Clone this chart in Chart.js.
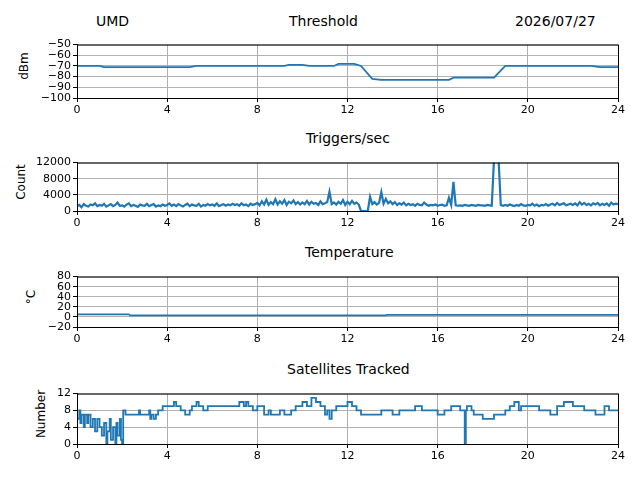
<!DOCTYPE html>
<html><head><meta charset="utf-8">
<script src="https://cdn.jsdelivr.net/npm/chart.js@4.4.0/dist/chart.umd.min.js"></script>
<style>
body{margin:0;background:#fff;width:640px;height:480px;position:relative;overflow:hidden;font-family:"DejaVu Sans",sans-serif;}
canvas{position:absolute;left:0;}
.t{position:absolute;font-size:14px;color:#000;white-space:nowrap;}
.yl{position:absolute;font-size:12px;transform:translate(-50%,-50%) rotate(-90deg);white-space:nowrap;}
</style></head><body>
<div class="t" style="left:96px;top:13px">UMD</div>
<div class="t" style="left:289px;top:13px">Threshold</div>
<div class="t" style="left:515px;top:13px">2026/07/27</div>
<div class="t" style="left:306px;top:130px">Triggers/sec</div>
<div class="t" style="left:305px;top:244px">Temperature</div>
<div class="t" style="left:287px;top:361px">Satellites Tracked</div>
<div class="yl" style="left:24px;top:66px">dBm</div>
<div class="yl" style="left:21px;top:182px">Count</div>
<div class="yl" style="left:31px;top:297px">°C</div>
<div class="yl" style="left:41px;top:414px">Number</div>
<canvas id="c1" width="640" height="84" style="top:36px"></canvas>
<canvas id="c2" width="640" height="79" style="top:154px"></canvas>
<canvas id="c3" width="640" height="81" style="top:268px"></canvas>
<canvas id="c4" width="640" height="81" style="top:385px"></canvas>
<script>
var thrHours = [0, 1, 1.2, 5, 5.3, 9.2, 9.4, 10, 10.3, 11.4, 11.6, 12.3, 12.6, 13.1, 13.5, 16.5, 16.7, 18.5, 19.0, 22.8, 23.2, 24];
var thrValues = [-70, -70, -71, -71, -70, -70, -69, -69, -70, -70, -68, -68, -70, -82, -83, -83, -81, -81, -70, -70, -71, -71];

var trigStep = 0.1;
var trigCounts = [
 1200,1500,900,1700,1300,1100,1600,1400,1900,1200,
 1500,1300,1800,1100,1400,1700,1200,1500,2100,1300,
 1400,1100,1600,1900,1200,1500,1300,1000,1600,1400,
 1300,1800,1200,1500,1700,1100,1400,1200,1600,1300,
 1500,1900,1300,1600,1200,1700,1400,1100,1500,1800,
 1200,1600,1400,1300,1800,1100,1500,1300,1700,1400,
 1600,1300,1900,1200,1500,1700,1300,1600,1400,1800,
 1500,1700,1300,1900,1400,1600,1200,1800,1500,1700,
 2000,1400,2400,1600,2800,1500,2200,1700,2900,1600,
 2400,1800,2700,1500,2300,1900,2600,1700,2200,1600,
 2100,1700,2500,1600,2300,1800,2000,1500,2400,1700,
 1900,2200,4800,1700,2100,1600,2300,1800,2700,1500,
 2300,1700,2500,1800,2100,1600,0,0,0,0,
 3500,1700,2200,1600,2000,4700,1800,3000,1900,2400,
 1700,2200,1500,1900,1600,2100,1400,1800,1500,1700,
 1300,1800,1500,1400,2100,1600,1300,1500,1400,1600,
 1300,1500,1600,1300,1400,3300,1500,7200,1400,1300,
 1400,1300,1500,1400,1300,1500,1400,1300,1500,1400,
 1400,1300,1500,1400,1300,13000,13000,13000,1500,1300,
 1500,1300,1600,1400,1200,1500,1300,1700,1400,1300,
 1500,1400,1800,1300,1600,1200,1500,1400,1700,1300,
 1600,1800,1400,2000,1500,1700,1900,1400,1600,1800,
 1500,1900,1400,2200,1600,2000,1500,1800,1400,1900,
 1600,2000,1400,1800,1500,1900,1300,2100,1600,1800,
 1700];

var tempHours = [0, 2.3, 2.35, 13.7, 13.75, 24];
var tempValues = [5, 5, 3, 3, 4, 4];

var satHours = [0,0.1,0.15,0.2,0.3,0.35,0.45,0.5,0.6,0.7,0.8,0.9,1.0,1.1,1.2,1.3,1.35,1.45,1.5,1.6,1.7,1.75,1.8,1.9,1.95,2.0,2.05,2.15,
 2.75,2.8,3.2,3.25,3.3,3.4,3.5,3.6,3.8,4.3,4.4,4.6,4.8,5.0,5.1,5.3,5.4,5.6,5.8,7.2,7.4,7.5,7.6,7.8,8.0,8.3,8.5,8.6,9.0,9.2,9.5,9.7,
 10.0,10.2,10.4,10.6,10.8,11.0,11.1,11.2,11.3,11.5,12.0,12.2,12.4,12.6,13.5,14.0,14.3,15.0,15.3,16.0,16.3,16.6,17.0,17.2,17.25,17.3,
 17.5,17.6,18.0,18.5,19.0,19.2,19.4,19.6,19.7,20.5,21.0,21.3,21.6,22.0,22.5,23.0,23.4,23.6,24];
var satValues = [8,6,8,5,7,4,7,5,7,4,6,3,6,4,2,5,0,3,6,1,4,0,5,2,6,1,0,8,
 7,8,7,8,6,7,6,7,8,9,10,9,8,7,8,9,10,9,8,9,10,9,10,9,8,9,7,8,7,8,7,8,
 9,10,9,11,10,9,7,8,6,8,9,10,9,8,7,8,7,8,9,8,7,8,9,8,0,8,
 9,8,7,6,7,8,9,10,8,9,8,7,9,10,9,8,7,9,8];

var xTicks = [0, 4, 8, 12, 16, 20, 24];
var thrTicks = [-100, -90, -80, -70, -60, -50];
var trigTicks = [0, 4000, 8000, 12000];
var tempTicks = [-20, 0, 20, 40, 60, 80];
var satTicks = [0, 4, 8, 12];
var blue = '#1f77b4';

function pts(xs, ys) { return ys.map(function (v, i) { return { x: xs[i], y: v }; }); }

var frame = {
    id: 'frame',
    afterDraw: function (chart) {
        var a = chart.chartArea, c = chart.ctx;
        c.save(); c.strokeStyle = '#000'; c.lineWidth = 1;
        c.strokeRect(a.left + 0.5, a.top + 0.5, a.right - a.left, a.bottom - a.top);
        c.restore();
    }
};

function fixed(list) {
    return function (s) { s.ticks = list.map(function (v) { return { value: v }; }); };
}

function makeChart(id, data, yTicks, width, stepped) {
    new Chart(document.getElementById(id), {
        type: 'line',
        data: { datasets: [{ data: data, borderColor: blue, borderWidth: width, pointRadius: 0, stepped: stepped, tension: 0 }] },
        options: {
            responsive: false, animation: false, events: [],
            layout: { padding: { left: 0, right: 22, top: 1, bottom: 0 } },
            plugins: { legend: { display: false }, tooltip: { enabled: false } },
            scales: {
                x: {
                    type: 'linear', min: 0, max: 24,
                    afterFit: function (s) { s.height = 22; },
                    afterBuildTicks: fixed(xTicks),
                    ticks: { autoSkip: false, color: '#000', font: { family: 'DejaVu Sans', size: 11 }, maxRotation: 0, padding: 2,
                        callback: function (v) { return String(v); } },
                    grid: { color: '#b0b0b0', tickColor: '#000', tickLength: 4 },
                    border: { color: '#000' }
                },
                y: {
                    min: yTicks[0], max: yTicks[yTicks.length - 1],
                    afterFit: function (s) { s.width = 77; },
                    afterBuildTicks: fixed(yTicks),
                    ticks: { autoSkip: false, color: '#000', font: { family: 'DejaVu Sans', size: 11 }, padding: 2,
                        callback: function (v) { return String(v).replace('-', '\u2212'); } },
                    grid: { color: '#b0b0b0', tickColor: '#000', tickLength: 4 },
                    border: { color: '#000' }
                }
            }
        },
        plugins: [frame]
    });
}

makeChart('c1', pts(thrHours, thrValues), thrTicks, 1.8, false);
makeChart('c2', trigCounts.map(function (v, i) { return { x: i * trigStep, y: v }; }), trigTicks, 2.2, false);
makeChart('c3', pts(tempHours, tempValues), tempTicks, 1.6, false);
makeChart('c4', pts(satHours, satValues), satTicks, 1.8, 'after');
</script>
</body></html>
